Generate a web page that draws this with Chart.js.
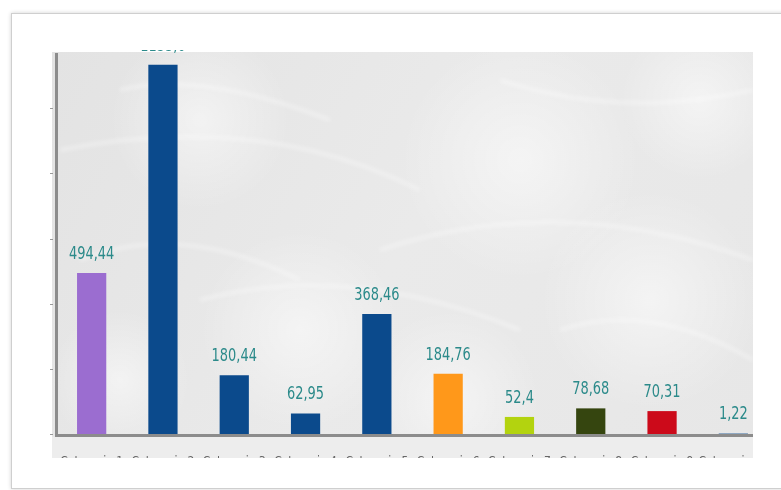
<!DOCTYPE html>
<html>
<head>
<meta charset="utf-8">
<script src="https://cdn.jsdelivr.net/npm/chart.js@4/dist/chart.umd.min.js"></script>
<style>
  html, body { margin: 0; padding: 0; background: #fff; }
  #wrap { position: relative; width: 781px; height: 490px; overflow: hidden; }
  #card {
    position: absolute; left: 11px; top: 13px; width: 790px; height: 474px;
    border: 1px solid #cfcfcf; box-shadow: 0 0 4px rgba(0,0,0,0.18); background: #fff;
  }
  #chart { position: absolute; left: 0; top: 0; }
</style>
</head>
<body>
<div id="wrap">
  <div id="card"></div>
  <canvas id="chart" width="781" height="490"></canvas>
</div>
<script>
// chart values
const categories = ['Categoria 1', 'Categoria 2', 'Categoria 3', 'Categoria 4', 'Categoria 5',
                    'Categoria 6', 'Categoria 7', 'Categoria 8', 'Categoria 9', 'Categoria 10'];
const values = [494.44, 1133.6, 180.44, 62.95, 368.46, 184.76, 52.4, 78.68, 70.31, 1.22];
const barColors = ['#9b6dd0', '#0b4a8c', '#0b4a8c', '#0b4a8c', '#0b4a8c',
                   '#ff981a', '#b3d30f', '#35450f', '#cc0a1a', '#0b4a8c'];
const yTicks = [0, 200, 400, 600, 800, 1000];

const LABEL_FONT = "18px 'DejaVu Sans Condensed', 'DejaVu Sans', sans-serif";
const VIEW = { left: 52, top: 52, right: 753, axis: 437, bottom: 458 };

// plot background, axes, labels
const framePlugin = {
  id: 'frame',
  beforeDraw(chart) {
    const ctx = chart.ctx;
    ctx.save();
    // textured light grey plot area
    const g = ctx.createLinearGradient(VIEW.left, VIEW.top, VIEW.right, VIEW.axis);
    g.addColorStop(0, '#e3e3e3');
    g.addColorStop(0.5, '#eaeaea');
    g.addColorStop(1, '#e7e7e7');
    ctx.fillStyle = g;
    ctx.fillRect(VIEW.left, VIEW.top, VIEW.right - VIEW.left, VIEW.axis - VIEW.top);
    ctx.beginPath();
    ctx.rect(VIEW.left, VIEW.top, VIEW.right - VIEW.left, VIEW.axis - VIEW.top);
    ctx.clip();
    const spots = [[200, 120, 90], [520, 160, 120], [650, 300, 110], [300, 330, 100], [120, 380, 70], [450, 400, 90], [700, 100, 80]];
    spots.forEach(([x, y, r]) => {
      const rg = ctx.createRadialGradient(x, y, 0, x, y, r);
      rg.addColorStop(0, 'rgba(255,255,255,0.5)');
      rg.addColorStop(1, 'rgba(255,255,255,0)');
      ctx.fillStyle = rg;
      ctx.fillRect(x - r, y - r, 2 * r, 2 * r);
    });
    ctx.filter = 'blur(2px)';
    ctx.strokeStyle = 'rgba(255,255,255,0.45)';
    ctx.lineWidth = 3;
    [[60, 150, 260, 110, 420, 190], [380, 250, 560, 190, 753, 260], [200, 300, 350, 260, 520, 330],
     [500, 80, 620, 120, 753, 90], [80, 260, 180, 220, 300, 280], [560, 330, 650, 300, 753, 360],
     [120, 90, 200, 70, 330, 120]].forEach(([x0, y0, cx, cy, x1, y1]) => {
      ctx.beginPath();
      ctx.moveTo(x0, y0);
      ctx.quadraticCurveTo(cx, cy, x1, y1);
      ctx.stroke();
    });
    ctx.filter = 'none';
    ctx.restore();
    // strip under the axis
    ctx.fillStyle = '#ededed';
    ctx.fillRect(VIEW.left, VIEW.axis, VIEW.right - VIEW.left, VIEW.bottom - VIEW.axis);
  },
  beforeDatasetsDraw(chart) {
    const ctx = chart.ctx;
    ctx.save();
    ctx.beginPath();
    ctx.rect(VIEW.left, VIEW.top, VIEW.right - VIEW.left, VIEW.axis - VIEW.top);
    ctx.clip();
  },
  afterDatasetsDraw(chart) {
    chart.ctx.restore();
  },
  afterDraw(chart) {
    const ctx = chart.ctx;
    const x = chart.scales.x, y = chart.scales.y;
    const y0 = y.getPixelForValue(0);
    ctx.save();
    // axes
    ctx.fillStyle = '#8c8c8c';
    ctx.fillRect(55, VIEW.top + 1, 3, y0 + 3 - VIEW.top - 1);
    ctx.fillRect(55, y0, VIEW.right - 55, 3);
    ctx.strokeStyle = '#999';
    ctx.lineWidth = 1;
    yTicks.forEach(v => {
      const py = Math.round(y.getPixelForValue(v)) + 0.5;
      ctx.beginPath();
      ctx.moveTo(50, py);
      ctx.lineTo(53, py);
      ctx.stroke();
    });
    // value labels (narrow type, like the original)
    ctx.beginPath();
    ctx.rect(VIEW.left, 50, VIEW.right - VIEW.left, VIEW.axis - 50);
    ctx.clip();
    ctx.font = LABEL_FONT;
    ctx.fillStyle = '#2b8a8a';
    ctx.textAlign = 'center';
    ctx.textBaseline = 'bottom';
    const meta = chart.getDatasetMeta(0);
    meta.data.forEach((bar, i) => {
      ctx.save();
      ctx.translate(bar.x, bar.y - 10);
      ctx.scale(0.8, 1);
      ctx.fillText(String(values[i]).replace('.', ','), 0, 0);
      ctx.restore();
    });
    ctx.restore();
    // category labels, cut off by the picture edge
    ctx.save();
    ctx.beginPath();
    ctx.rect(VIEW.left, VIEW.axis, VIEW.right - VIEW.left, VIEW.bottom - VIEW.axis);
    ctx.clip();
    ctx.font = "12px 'DejaVu Sans Condensed', sans-serif";
    ctx.fillStyle = '#666';
    ctx.textAlign = 'center';
    ctx.textBaseline = 'top';
    categories.forEach((c, i) => {
      ctx.fillText(c, x.getPixelForValue(i), 456);
    });
    ctx.restore();
  }
};

new Chart(document.getElementById('chart'), {
  type: 'bar',
  data: {
    labels: categories,
    datasets: [{
      data: values,
      backgroundColor: barColors,
      borderWidth: 0,
      categoryPercentage: 1,
      barPercentage: 0.41,
    }]
  },
  options: {
    responsive: false,
    animation: false,
    layout: { padding: { left: 56, right: 12, top: 52, bottom: 56 } },
    plugins: { legend: { display: false }, tooltip: { enabled: false } },
    scales: {
      x: { display: false, offset: true },
      y: { display: false, min: 0, max: 1173 }
    }
  },
  plugins: [framePlugin]
});
</script>
</body>
</html>
